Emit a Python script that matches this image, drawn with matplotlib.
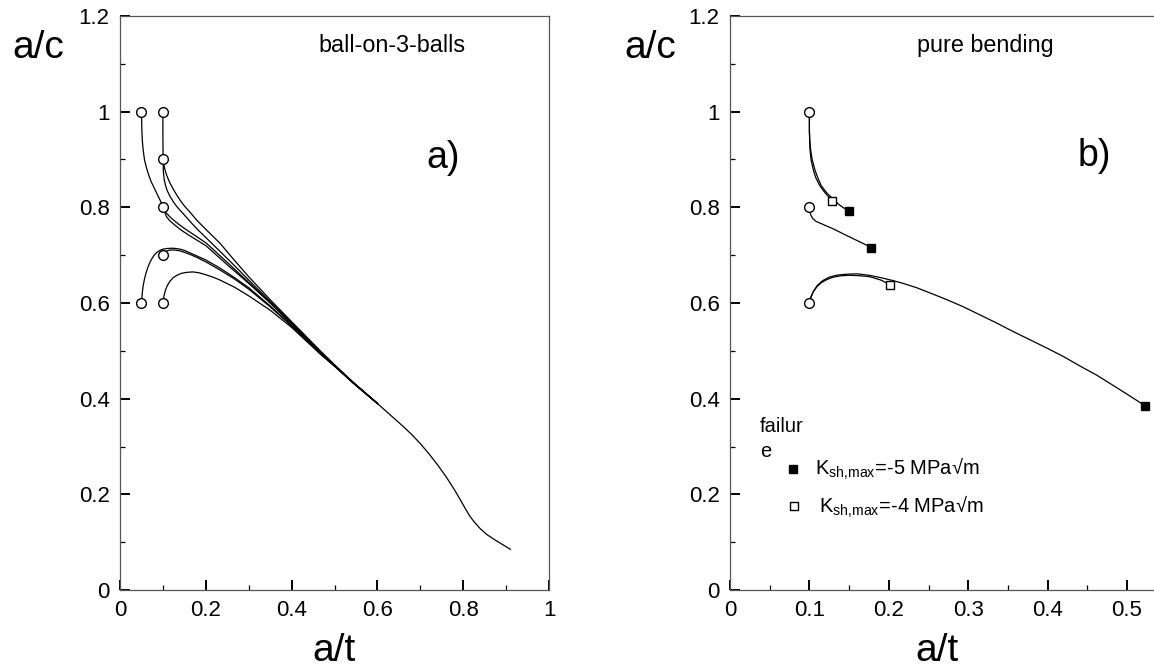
import numpy as np
import matplotlib
matplotlib.use('Agg')
import matplotlib.pyplot as plt
from matplotlib.ticker import MultipleLocator

plt.rcParams['font.family'] = ['Liberation Sans', 'DejaVu Sans']
plt.rcParams['mathtext.fontset'] = 'custom'
plt.rcParams['mathtext.rm'] = 'Liberation Sans'

# ---- panel a) ball-on-3-balls : start points (open circles)
start_a_x = [0.05, 0.1, 0.1, 0.1, 0.05, 0.1, 0.1]
start_a_y = [1.0, 1.0, 0.9, 0.8, 0.6, 0.7, 0.6]

# branches up to the common part
branch_a1_x = [0.05, 0.0505, 0.051, 0.052, 0.054, 0.057, 0.061, 0.066, 0.072, 0.08, 0.088, 0.095, 0.1,
               0.104, 0.108, 0.115, 0.125, 0.14, 0.16, 0.18, 0.2, 0.25, 0.3, 0.35, 0.4, 0.467, 0.5, 0.544, 0.6]
branch_a1_y = [1.0, 0.98, 0.96, 0.94, 0.92, 0.9, 0.885, 0.87, 0.855, 0.84, 0.825, 0.812, 0.802,
               0.79, 0.781, 0.773, 0.765, 0.754, 0.742, 0.731, 0.72, 0.68, 0.641, 0.6, 0.556, 0.496, 0.469, 0.433, 0.39]

branch_a2_x = [0.1, 0.1, 0.1005, 0.101, 0.103, 0.106, 0.11, 0.116, 0.124, 0.132, 0.145, 0.158, 0.171, 0.185,
               0.2, 0.233, 0.267, 0.3, 0.35, 0.4, 0.467, 0.5, 0.544, 0.6]
branch_a2_y = [1.0, 0.95, 0.9, 0.875, 0.858, 0.846, 0.835, 0.824, 0.812, 0.802, 0.789, 0.776, 0.763, 0.75,
               0.737, 0.708, 0.678, 0.648, 0.603, 0.558, 0.498, 0.47, 0.433, 0.39]

branch_a3_x = [0.1, 0.1015, 0.103, 0.105, 0.108, 0.112, 0.117, 0.123, 0.13, 0.14, 0.15, 0.164, 0.179, 0.2,
               0.233, 0.267, 0.3, 0.35, 0.4, 0.467, 0.5, 0.544, 0.6]
branch_a3_y = [0.9, 0.893, 0.886, 0.878, 0.869, 0.86, 0.85, 0.84, 0.829, 0.815, 0.803, 0.789, 0.773, 0.754,
               0.725, 0.689, 0.655, 0.607, 0.561, 0.5, 0.471, 0.434, 0.39]

branch_a4_x = [0.1, 0.104, 0.11, 0.12, 0.135, 0.15, 0.175, 0.2, 0.25, 0.3, 0.35, 0.4, 0.467, 0.5, 0.544, 0.6]
branch_a4_y = [0.8, 0.793, 0.786, 0.777, 0.766, 0.756, 0.741, 0.726, 0.685, 0.643, 0.601, 0.557, 0.495, 0.469, 0.433, 0.39]

branch_a5_x = [0.05, 0.051, 0.052, 0.054, 0.057, 0.061, 0.066, 0.072, 0.078, 0.085, 0.093, 0.1, 0.11, 0.12,
               0.13, 0.14, 0.15, 0.165, 0.18, 0.2, 0.233, 0.267, 0.3, 0.35, 0.4, 0.467, 0.5, 0.544, 0.6]
branch_a5_y = [0.6, 0.61, 0.622, 0.636, 0.65, 0.664, 0.677, 0.689, 0.698, 0.705, 0.71, 0.7125, 0.714, 0.7145,
               0.714, 0.7125, 0.71, 0.704, 0.698, 0.69, 0.673, 0.653, 0.632, 0.594, 0.553, 0.495, 0.469, 0.433, 0.39]

branch_a6_x = [0.1, 0.103, 0.107, 0.113, 0.12, 0.13, 0.14, 0.15, 0.165, 0.18, 0.2, 0.233, 0.267, 0.3, 0.35,
               0.4, 0.467, 0.5, 0.544, 0.6]
branch_a6_y = [0.7, 0.705, 0.708, 0.71, 0.711, 0.7105, 0.709, 0.706, 0.701, 0.695, 0.686, 0.669, 0.65, 0.629, 0.592,
               0.552, 0.494, 0.468, 0.433, 0.39]

branch_a7_x = [0.1, 0.101, 0.103, 0.106, 0.11, 0.116, 0.124, 0.133, 0.143, 0.155, 0.17, 0.185, 0.2, 0.217,
               0.233, 0.267, 0.3, 0.35, 0.4, 0.467, 0.5, 0.544, 0.6]
branch_a7_y = [0.6, 0.607, 0.617, 0.627, 0.636, 0.645, 0.653, 0.658, 0.662, 0.664, 0.665, 0.663, 0.659, 0.654,
               0.648, 0.633, 0.615, 0.585, 0.549, 0.493, 0.468, 0.432, 0.39]

tail_a_x = [0.6, 0.63, 0.66, 0.68, 0.7, 0.72, 0.74, 0.76, 0.78, 0.795, 0.805, 0.815, 0.825, 0.84, 0.855,
            0.87, 0.89, 0.91]
tail_a_y = [0.39, 0.366, 0.342, 0.325, 0.306, 0.285, 0.262, 0.237, 0.209, 0.186, 0.17, 0.155, 0.143, 0.128,
            0.116, 0.107, 0.096, 0.085]

# ---- panel b) pure bending
start_b_x = [0.1, 0.1, 0.1]
start_b_y = [1.0, 0.8, 0.6]

b1_x = [0.1, 0.1, 0.1005, 0.1016, 0.1035, 0.107, 0.111, 0.115, 0.122, 0.13, 0.137, 0.143, 0.15]
b1_y = [1.0, 0.96, 0.94, 0.92, 0.9, 0.878, 0.86, 0.845, 0.83, 0.817, 0.806, 0.799, 0.793]
b2_x = [0.1, 0.1, 0.1003, 0.1008, 0.102, 0.105, 0.108, 0.1125, 0.117, 0.122, 0.129]
b2_y = [1.0, 0.96, 0.94, 0.92, 0.9, 0.878, 0.862, 0.847, 0.836, 0.826, 0.814]
b3_x = [0.1, 0.1004, 0.1015, 0.104, 0.108, 0.1175, 0.13, 0.147, 0.162, 0.178]
b3_y = [0.8, 0.793, 0.785, 0.777, 0.771, 0.764, 0.755, 0.741, 0.729, 0.716]
b4_x = [0.1, 0.102, 0.105, 0.11, 0.1155, 0.122, 0.13, 0.14, 0.151, 0.163, 0.176, 0.19, 0.202]
b4_y = [0.6, 0.613, 0.624, 0.635, 0.643, 0.649, 0.654, 0.657, 0.658, 0.657, 0.655, 0.648, 0.638]
b5_x = [0.1, 0.102, 0.105, 0.11, 0.117, 0.125, 0.134, 0.145, 0.16, 0.175, 0.19, 0.205, 0.218, 0.235, 0.252,
        0.273, 0.294, 0.315, 0.336, 0.357, 0.378, 0.4, 0.42, 0.44, 0.462, 0.49, 0.523]
b5_y = [0.6, 0.612, 0.624, 0.637, 0.647, 0.654, 0.658, 0.66, 0.661, 0.658, 0.653, 0.647, 0.641, 0.632, 0.621,
        0.607, 0.592, 0.575, 0.558, 0.54, 0.523, 0.505, 0.488, 0.469, 0.449, 0.42, 0.385]

fail5_x = [0.15, 0.178, 0.523]   # K_sh,max = -5
fail5_y = [0.793, 0.716, 0.385]
fail4_x = [0.129, 0.202]         # K_sh,max = -4
fail4_y = [0.814, 0.638]

fig = plt.figure(figsize=(11.54, 6.68), dpi=100)
ax1 = fig.add_axes([120 / 1154, 78 / 668, 429 / 1154, 574 / 668])
ax2 = fig.add_axes([730 / 1154, 78 / 668, 426 / 1154, 574 / 668])

line_kw = dict(color='black', lw=0.9, zorder=2)
circ_kw = dict(ls='none', marker='o', ms=7.0, mfc='white', mec='black', mew=1.0, zorder=4)

branches = [(branch_a1_x, branch_a1_y), (branch_a2_x, branch_a2_y), (branch_a3_x, branch_a3_y),
            (branch_a4_x, branch_a4_y), (branch_a5_x, branch_a5_y), (branch_a6_x, branch_a6_y),
            (branch_a7_x, branch_a7_y)]
for bx, by in branches:
    ax1.plot(bx, by, **line_kw)
ax1.plot(tail_a_x, tail_a_y, **line_kw)
ax1.plot(start_a_x, start_a_y, **circ_kw)

for bx, by in [(b1_x, b1_y), (b2_x, b2_y), (b3_x, b3_y), (b4_x, b4_y), (b5_x, b5_y)]:
    ax2.plot(bx, by, **line_kw)
ax2.plot(start_b_x, start_b_y, **circ_kw)
ax2.plot(fail5_x, fail5_y, ls='none', marker='s', ms=5.6, mfc='black', mec='black', zorder=4, clip_on=False)
ax2.plot(fail4_x, fail4_y, ls='none', marker='s', ms=6.2, mfc='white', mec='black', mew=1.0, zorder=4)

for ax, xmax, xmaj in [(ax1, 1.0, 0.2), (ax2, 426 / 794, 0.1)]:
    ax.set_xlim(0, xmax)
    ax.set_ylim(0, 1.2)
    ax.xaxis.set_major_locator(MultipleLocator(xmaj))
    ax.xaxis.set_minor_locator(MultipleLocator(xmaj / 2))
    ax.yaxis.set_major_locator(MultipleLocator(0.2))
    ax.yaxis.set_minor_locator(MultipleLocator(0.1))
    ax.tick_params(which='major', direction='in', length=7, width=1.4, color='black',
                   labelsize=16, pad=7.5, top=False, right=False)
    ax.tick_params(which='minor', direction='in', length=3.5, width=0.9, color='black',
                   top=False, right=False)
    for sp in ax.spines.values():
        sp.set_color('#555555')
        sp.set_linewidth(0.9)
    ax.xaxis.set_major_formatter(plt.FuncFormatter(lambda v, p: ('%g' % round(v, 3))))
    ax.yaxis.set_major_formatter(plt.FuncFormatter(lambda v, p: ('%g' % round(v, 3))))

ax1.text(0.462, 0.937, 'ball-on-3-balls', transform=ax1.transAxes, fontsize=16.8, va='baseline')
ax2.text(0.44, 0.937, 'pure bending', transform=ax2.transAxes, fontsize=16.8, va='baseline')
ax1.text(0.713, 0.735, 'a)', transform=ax1.transAxes, fontsize=27, va='baseline')
ax2.text(0.817, 0.739, 'b)', transform=ax2.transAxes, fontsize=27, va='baseline')

# legend (failure markers)
ax2.text(0.07, 0.275, 'failur', transform=ax2.transAxes, fontsize=14.5, va='baseline')
ax2.text(0.07, 0.232, 'e', transform=ax2.transAxes, fontsize=14.5, va='baseline')
ax2.plot([0.148], [0.211], transform=ax2.transAxes, ls='none', marker='s', ms=5.6,
         mfc='black', mec='black', clip_on=False)
ax2.plot([0.15], [0.146], transform=ax2.transAxes, ls='none', marker='s', ms=6.0,
         mfc='white', mec='black', mew=1.0, clip_on=False)
ax2.text(0.2, 0.2, r'K$_\mathregular{sh{,}max}$=-5 MPa√m', transform=ax2.transAxes,
         fontsize=14.5, va='baseline')
ax2.text(0.21, 0.135, r'K$_\mathregular{sh{,}max}$=-4 MPa√m', transform=ax2.transAxes,
         fontsize=14.5, va='baseline')

# axis titles
fig.text(12 / 1154, (668 - 58) / 668, 'a/c', fontsize=28, ha='left', va='baseline')
fig.text(624 / 1154, (668 - 58) / 668, 'a/c', fontsize=28, ha='left', va='baseline')
fig.text(334.5 / 1154, 7 / 668, 'a/t', fontsize=28, ha='center', va='baseline')
fig.text(937 / 1154, 7 / 668, 'a/t', fontsize=28, ha='center', va='baseline')

fig.savefig('out.png', dpi=100)
